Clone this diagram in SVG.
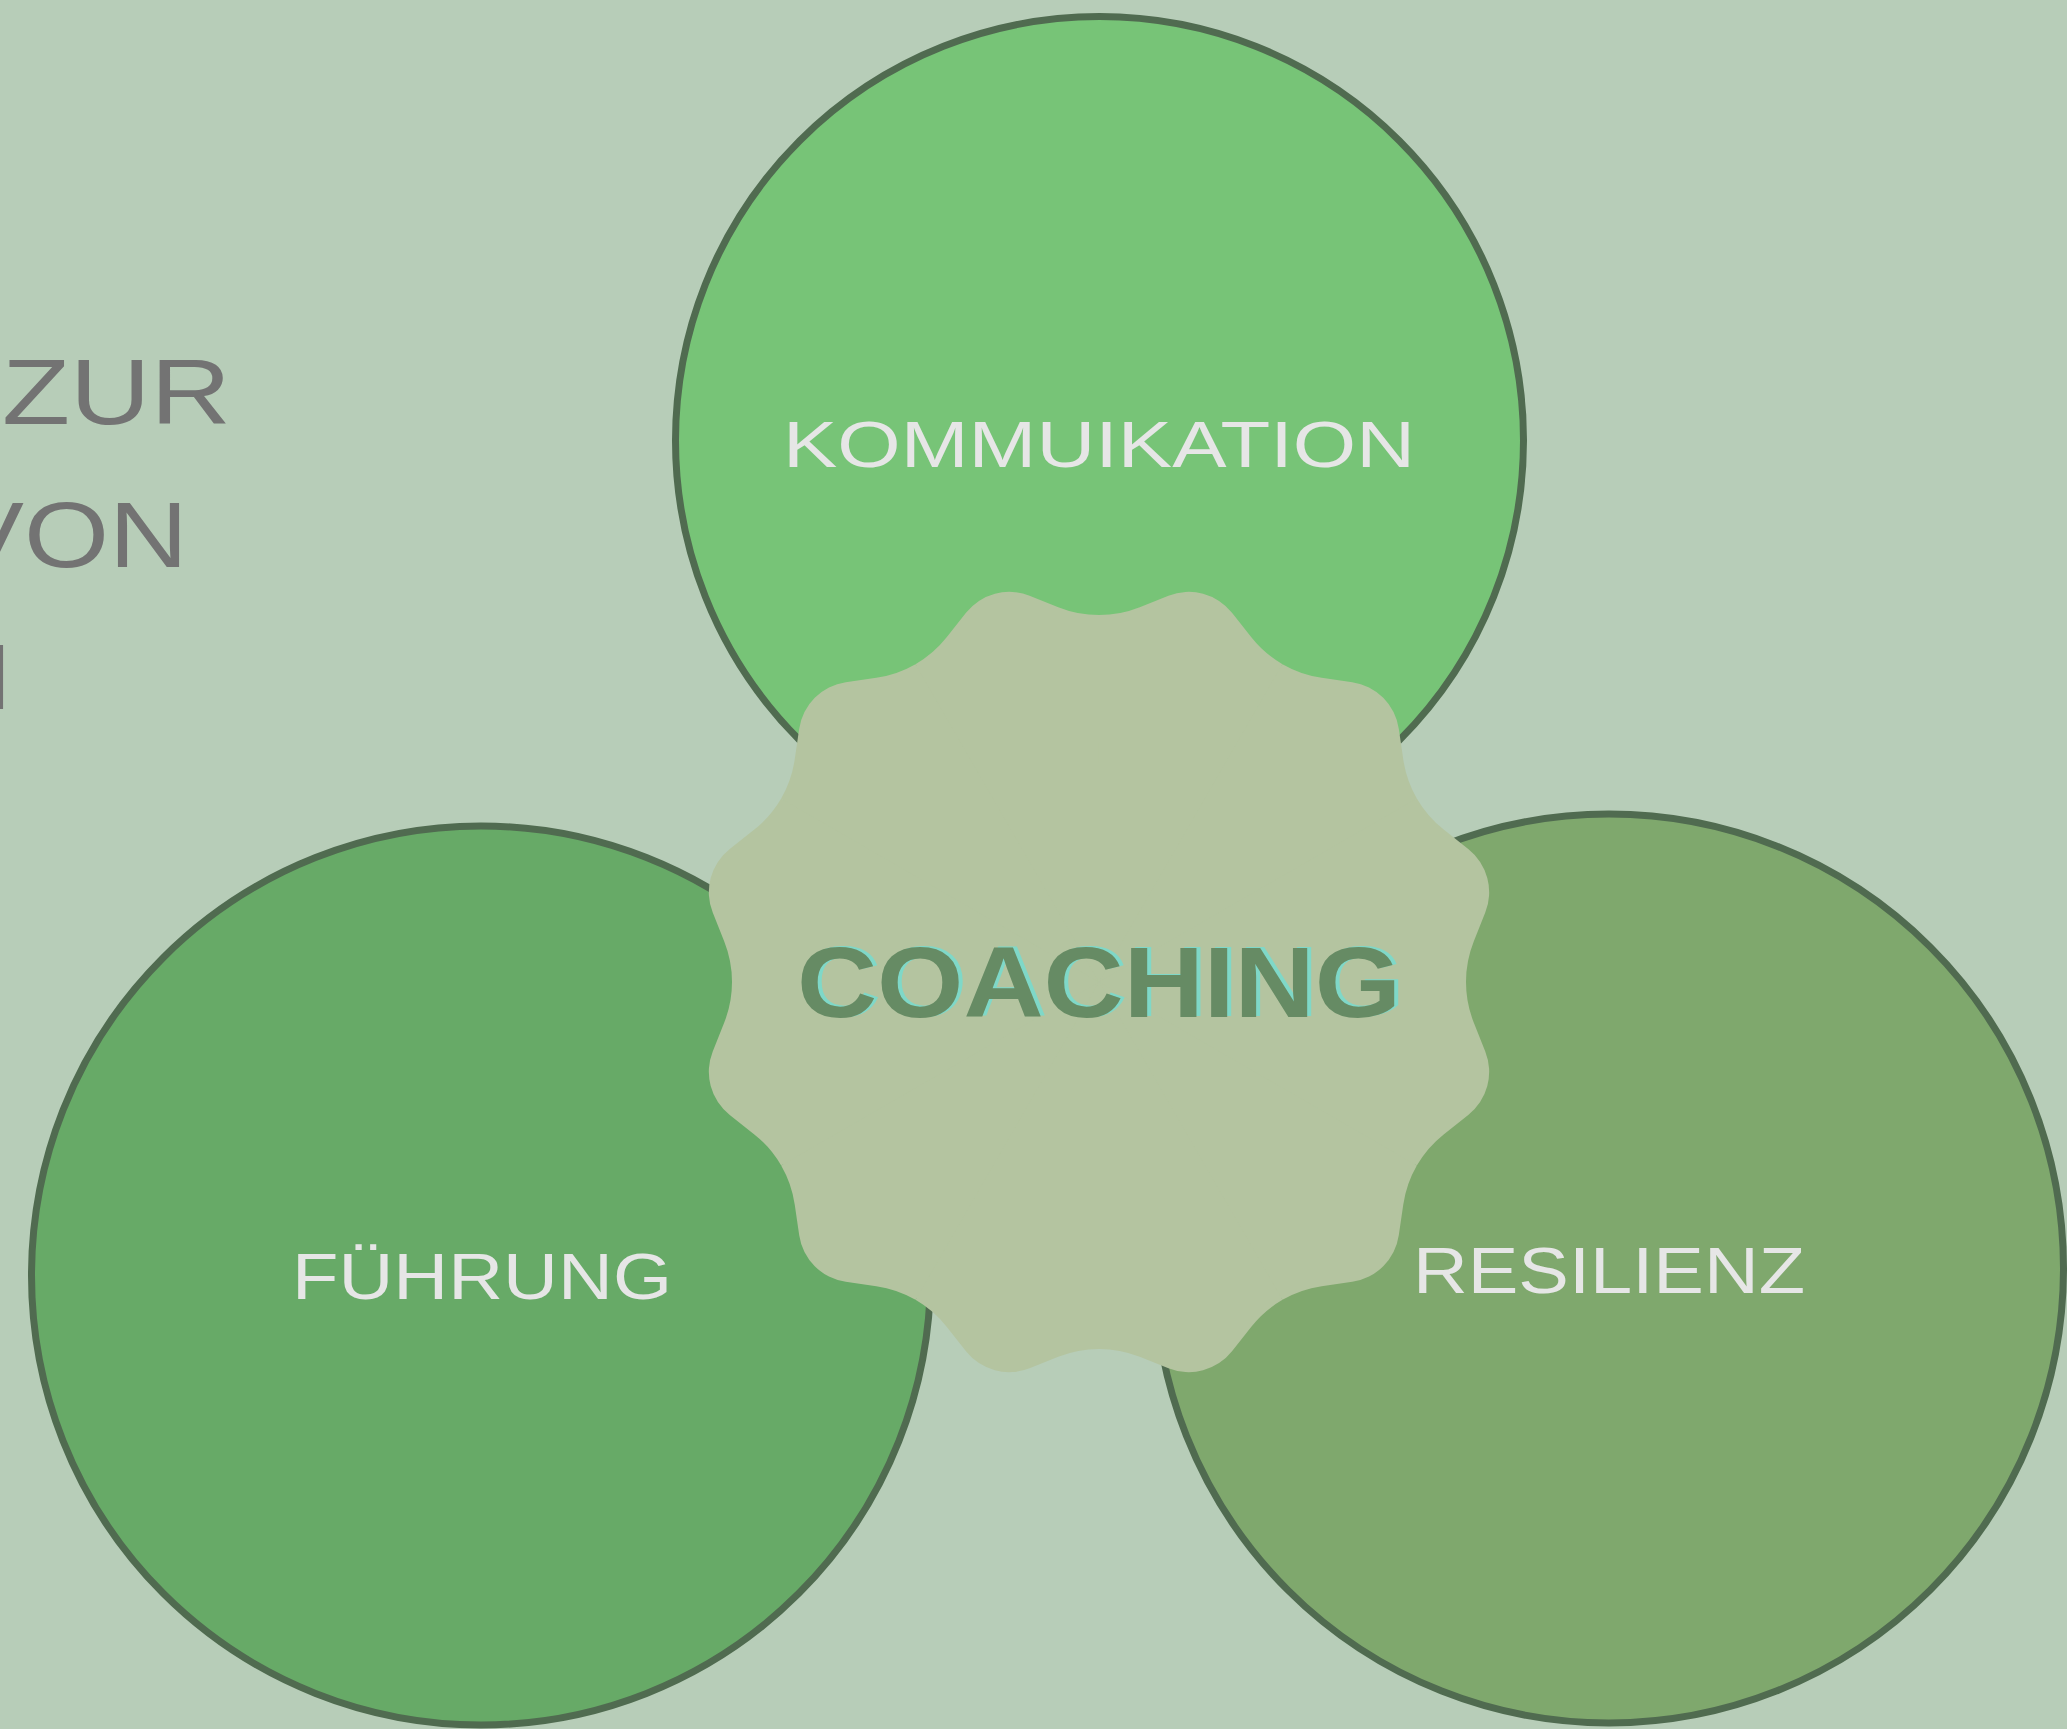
<svg xmlns="http://www.w3.org/2000/svg" width="2067" height="1729" viewBox="0 0 2067 1729">
  <style>
    .ring { stroke: #506b50; stroke-width: 7; }
    .label { font-family: "Liberation Sans", Arial, sans-serif; font-size: 65px; fill: #e6e6e6; text-anchor: middle; }
    .side { font-family: "Liberation Sans", Arial, sans-serif; font-size: 93px; fill: #737373; }
    .core { font-family: "Liberation Sans", Arial, sans-serif; font-weight: bold; font-size: 101px; text-anchor: middle; }
    .badge { fill: #b4c4a0; }
  </style>
  <defs>
    <path id="wedge" d="M0,0 L-94.99,-354.49 A110,110 0 0 0 -57.66,-372.61 L-32.90,-391.07 A55,55 0 0 1 32.90,-391.07 L57.66,-372.61 A110,110 0 0 0 94.99,-354.49 Z"/>
  </defs>
  <rect x="0" y="0" width="2067" height="1729" fill="#b7cdb8"/>

  <g id="side-text">
    <text class="side" x="2" y="424" textLength="229" lengthAdjust="spacingAndGlyphs">ZUR</text>
    <text class="side" x="-49" y="567" textLength="237" lengthAdjust="spacingAndGlyphs">VON</text>
    <text class="side" x="-67" y="709" textLength="79" lengthAdjust="spacingAndGlyphs">N</text>
  </g>

  <g id="node-kommunikation">
    <circle class="ring" cx="1099.5" cy="440.5" r="424" fill="#77c477"/>
    <text class="label" x="1099" y="467" textLength="632" lengthAdjust="spacingAndGlyphs">KOMMUIKATION</text>
  </g>

  <g id="node-fuehrung">
    <circle class="ring" cx="481" cy="1275.5" r="449.5" fill="#67aa67"/>
    <text class="label" x="482" y="1299" font-size="66" textLength="380" lengthAdjust="spacingAndGlyphs">FÜHRUNG</text>
  </g>

  <g id="node-resilienz">
    <circle class="ring" cx="1609" cy="1268.5" r="454.5" fill="#7fa86d"/>
    <text class="label" x="1609" y="1293" textLength="392" lengthAdjust="spacingAndGlyphs">RESILIENZ</text>
  </g>

  <g id="node-coaching">
    <g class="badge" transform="translate(1099 982)">
      <circle cx="0" cy="0" r="365"/>
      <use href="#wedge" transform="rotate(15)"/>
      <use href="#wedge" transform="rotate(45)"/>
      <use href="#wedge" transform="rotate(75)"/>
      <use href="#wedge" transform="rotate(105)"/>
      <use href="#wedge" transform="rotate(135)"/>
      <use href="#wedge" transform="rotate(165)"/>
      <use href="#wedge" transform="rotate(195)"/>
      <use href="#wedge" transform="rotate(225)"/>
      <use href="#wedge" transform="rotate(255)"/>
      <use href="#wedge" transform="rotate(285)"/>
      <use href="#wedge" transform="rotate(315)"/>
      <use href="#wedge" transform="rotate(345)"/>
    </g>
    <text class="core" x="1103" y="1016" fill="#7fd8c8" textLength="604" lengthAdjust="spacingAndGlyphs">COACHING</text>
    <text class="core" x="1099" y="1017" fill="#668b64" textLength="604" lengthAdjust="spacingAndGlyphs">COACHING</text>
  </g>

  <g id="connectors"/>
</svg>
